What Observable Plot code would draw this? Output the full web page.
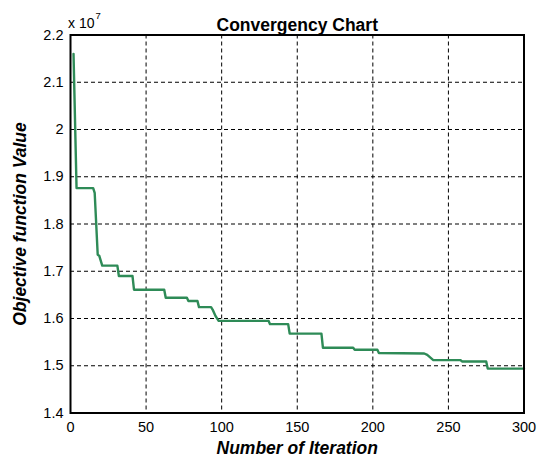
<!DOCTYPE html>
<html>
<head>
<meta charset="utf-8">
<script src="https://cdn.jsdelivr.net/npm/d3@7"></script>
<script src="https://cdn.jsdelivr.net/npm/@observablehq/plot@0.6"></script>
<style>
  html, body { margin: 0; padding: 0; background: #fff; }
  #chart { width: 537px; height: 465px; }
</style>
</head>
<body>
<div id="chart"></div>
<script>
// Objective function value (in units of 1e7) at breakpoint iterations
const iterations = [2, 4, 15, 16, 18, 19, 21, 31, 32, 41, 42, 62, 63, 77, 78, 84, 85, 93, 94, 96, 98, 131, 132, 144, 145, 166, 167, 187, 188, 203, 204, 234, 236, 240, 258, 259, 275, 276, 300];
const values =     [2.160, 1.876, 1.876, 1.866, 1.735, 1.733, 1.712, 1.712, 1.690, 1.690, 1.661, 1.661, 1.644, 1.644, 1.637, 1.637, 1.624, 1.624, 1.619, 1.605, 1.595, 1.595, 1.588, 1.588, 1.568, 1.568, 1.538, 1.538, 1.534, 1.534, 1.527, 1.526, 1.523, 1.512, 1.512, 1.509, 1.509, 1.494, 1.494];
const xTicks = [0, 50, 100, 150, 200, 250, 300];
const yTicks = [1.4, 1.5, 1.6, 1.7, 1.8, 1.9, 2.0, 2.1, 2.2];
const title = "Convergency Chart";
const xLabel = "Number of Iteration";
const yLabel = "Objective function Value";

const data = iterations.map((it, i) => ({iter: it, value: values[i]}));
const font = "'Liberation Sans', Arial, sans-serif";

const plot = Plot.plot({
  width: 537,
  height: 465,
  marginLeft: 70,
  marginRight: 13.5,
  marginTop: 34.5,
  marginBottom: 52.5,
  style: {fontFamily: font, fontSize: "14.5px", background: "#fff", color: "#000"},
  x: {domain: [0, 300]},
  y: {domain: [1.4, 2.2]},
  marks: [
    Plot.gridX(xTicks.filter(d => d > 0 && d < 300), {stroke: "#000", strokeOpacity: 1, strokeWidth: 1, strokeDasharray: "4,3"}),
    Plot.gridY(yTicks.filter(d => d > 1.4 && d < 2.2), {stroke: "#000", strokeOpacity: 1, strokeWidth: 1, strokeDasharray: "4,3"}),
    Plot.axisX({ticks: xTicks, tickSize: 0, tickPadding: 9, tickFormat: d3.format("~g"), label: null, fontSize: 14.5}),
    Plot.axisY({ticks: yTicks, tickSize: 0, tickPadding: 7, tickFormat: d3.format("~g"), label: null, fontSize: 14.5}),
    Plot.line(data, {x: "iter", y: "value", stroke: "#2e8b57", strokeWidth: 2.4, strokeLinejoin: "round"}),
    Plot.frame({stroke: "#000", strokeWidth: 2}),
    Plot.text([title], {frameAnchor: "top", dy: -16.5, text: d => d, fontSize: 17.5, fontWeight: "bold"}),
    Plot.text([xLabel], {frameAnchor: "bottom", dy: 40.5, text: d => d, fontSize: 17.5, fontWeight: "bold", fontStyle: "italic"}),
    Plot.text([yLabel], {frameAnchor: "left", dx: -50, rotate: -90, textAnchor: "middle", text: d => d, fontSize: 17.5, fontWeight: "bold", fontStyle: "italic"})
  ]
});

// exponent label "x 10^7"
const svg = d3.select(plot);
const t = svg.append("text")
  .attr("x", 68).attr("y", 28)
  .attr("text-anchor", "start")
  .attr("font-family", font).attr("font-size", 14).attr("fill", "#000");
t.append("tspan").text("x 10");
t.append("tspan").attr("dx", 1).attr("dy", -9).attr("font-size", 9.5).text("7");

document.getElementById("chart").appendChild(plot);
</script>
</body>
</html>
